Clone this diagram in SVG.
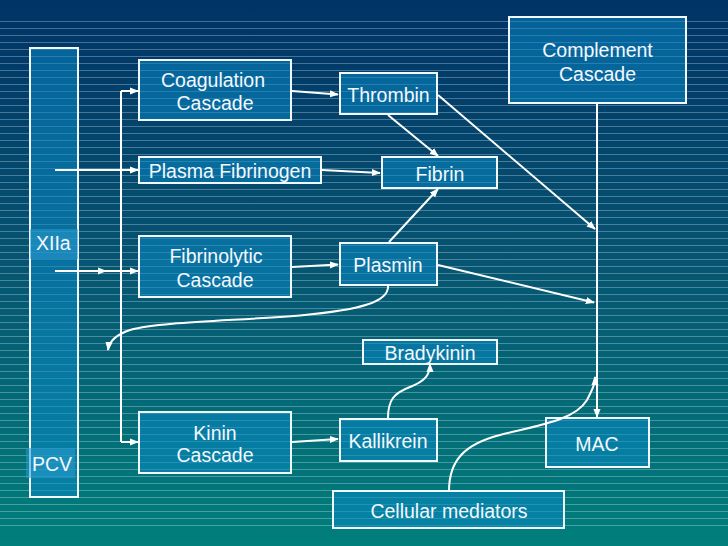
<svg xmlns="http://www.w3.org/2000/svg" width="728" height="546" viewBox="0 0 728 546">
<defs>
<linearGradient id="bg" x1="0" y1="0" x2="0" y2="1">
<stop offset="0" stop-color="#003366"/>
<stop offset="0.5" stop-color="#065672"/>
<stop offset="1" stop-color="#007f7c"/>
</linearGradient>
<pattern id="hl" x="0" y="21" width="728" height="7" patternUnits="userSpaceOnUse">
<rect x="0" y="0" width="728" height="1" fill="#ffffff" fill-opacity="0.28"/>
</pattern>
<marker id="ah" viewBox="0 0 10 10" refX="9" refY="5" markerWidth="4.5" markerHeight="4.5" orient="auto" markerUnits="strokeWidth">
<path d="M0,1 L10,5 L0,9 Z" fill="#ffffff"/>
</marker>
<style>
.box{fill:#0a88c4;fill-opacity:0.55;stroke:#f2f8ff;stroke-width:2}
.lbl{fill:#2a9ad0;fill-opacity:0.55}
.t{font-family:"Liberation Sans",Arial,sans-serif;font-size:19.5px;fill:#f4f8ff;text-anchor:middle}
.tl{font-family:"Liberation Sans",Arial,sans-serif;font-size:19.5px;fill:#f4f8ff}
.c{fill:none;stroke:#ffffff;stroke-width:2}
.a{marker-end:url(#ah)}
</style>
</defs>
<rect width="728" height="546" fill="url(#bg)"/>
<rect x="0" y="21" width="728" height="505" fill="url(#hl)"/>

<g id="pcv-column">
<rect class="box" x="30" y="48" width="48" height="449"/>
<rect class="lbl" x="30" y="229" width="48" height="30"/>
<text class="tl" x="36" y="250">XIIa</text>
<rect class="lbl" x="26" y="448" width="49" height="30"/>
<text class="tl" x="32" y="471">PCV</text>
</g>

<g id="coagulation">
<rect class="box" x="139" y="60" width="152" height="60"/>
<text class="t" x="213" y="87">Coagulation</text>
<text class="t" x="215" y="110">Cascade</text>
</g>
<g id="thrombin">
<rect class="box" x="340" y="73" width="97" height="41"/>
<text class="t" x="388.5" y="101.5">Thrombin</text>
</g>
<g id="plasma-fibrinogen">
<rect class="box" x="139" y="157" width="182" height="26"/>
<text class="t" x="230" y="177.5">Plasma Fibrinogen</text>
</g>
<g id="fibrin">
<rect class="box" x="382" y="157" width="115" height="31"/>
<text class="t" x="440" y="180.5">Fibrin</text>
</g>
<g id="fibrinolytic">
<rect class="box" x="139" y="236" width="152" height="61"/>
<text class="t" x="216" y="263">Fibrinolytic</text>
<text class="t" x="215" y="286.5">Cascade</text>
</g>
<g id="plasmin">
<rect class="box" x="340" y="243" width="97" height="42"/>
<text class="t" x="388" y="271.5">Plasmin</text>
</g>
<g id="bradykinin">
<rect class="box" x="363" y="340" width="134" height="24"/>
<text class="t" x="430" y="359.5">Bradykinin</text>
</g>
<g id="kinin">
<rect class="box" x="139" y="412" width="152" height="61"/>
<text class="t" x="215" y="439.5">Kinin</text>
<text class="t" x="215" y="462">Cascade</text>
</g>
<g id="kallikrein">
<rect class="box" x="340" y="419" width="97" height="42"/>
<text class="t" x="388" y="448">Kallikrein</text>
</g>
<g id="complement">
<rect class="box" x="509" y="17" width="177" height="86"/>
<text class="t" x="597.5" y="57">Complement</text>
<text class="t" x="597.5" y="81">Cascade</text>
</g>
<g id="mac">
<rect class="box" x="546" y="418" width="103" height="49"/>
<text class="t" x="597" y="451">MAC</text>
</g>
<g id="cellular">
<rect class="box" x="333" y="491" width="231" height="37"/>
<text class="t" x="449" y="518">Cellular mediators</text>
</g>

<g id="connectors">
<path class="c" d="M121,91 V442"/>
<path class="c a" d="M121,91 H138"/>
<path class="c a" d="M121,442 H138"/>
<path class="c a" d="M55,170 H138"/>
<path class="c a" d="M55,271 H106"/>
<path class="c a" d="M106,271 H138"/>
<path class="c a" d="M292,91 L338,94.5"/>
<path class="c a" d="M388,115 L438,156"/>
<path class="c a" d="M438,95 L595,229"/>
<path class="c a" d="M322,170 L380,173"/>
<path class="c a" d="M389,242 L438,189"/>
<path class="c a" d="M292,267 L338,264.5"/>
<path class="c a" d="M438,265 L594,302.5"/>
<path class="c a" d="M597,103 V417"/>
<path class="c a" d="M388,285 C390,302 360,310 300,315.5 C230,321 160,322 130,330 C115,335 109,342 108,350"/>
<path class="c a" d="M292,442 L338,439"/>
<path class="c a" d="M388,418 C388,400 394,393 410,387 C425,381 430,375 430,364"/>
<path class="c a" d="M449,491 C449,460 465,444 500,435 C540,425 575,420 587,400 C592,390 595,385 595,377"/>
</g>
</svg>
